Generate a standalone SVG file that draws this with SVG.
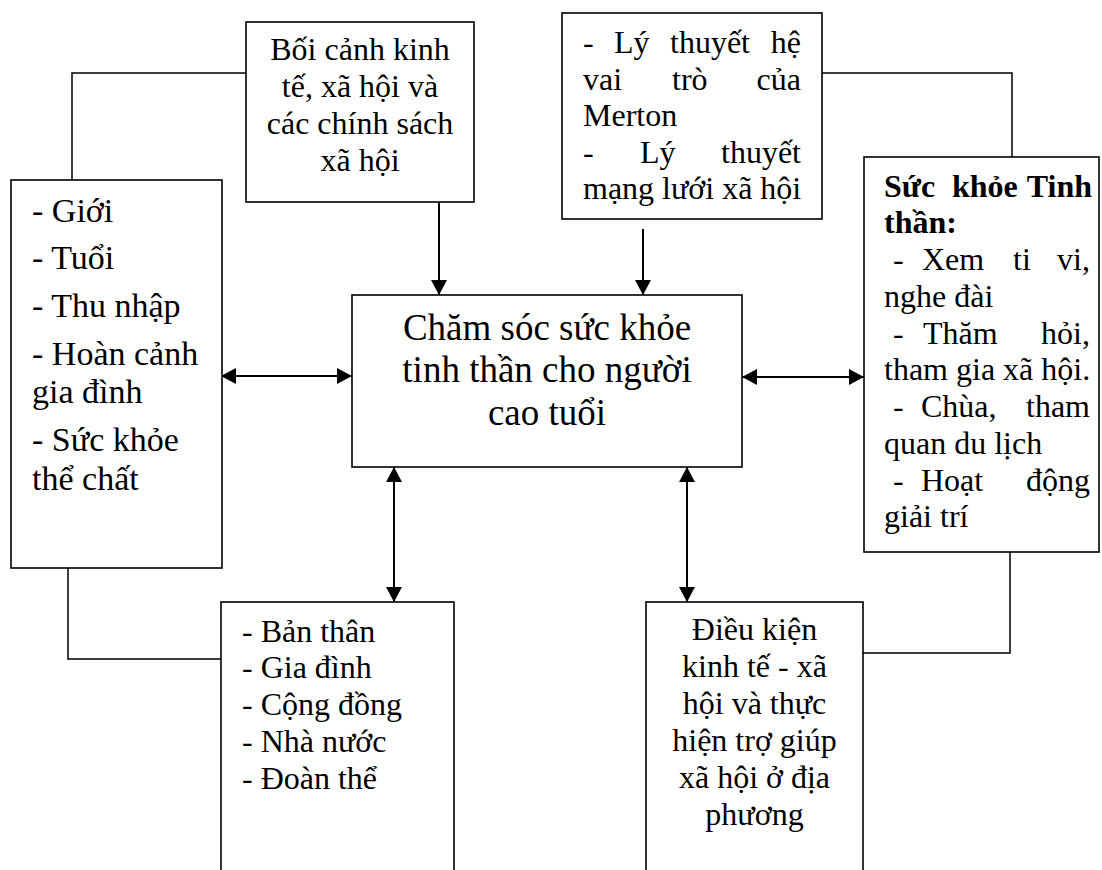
<svg xmlns="http://www.w3.org/2000/svg" width="1102" height="870" viewBox="0 0 1102 870">
<style>
  .box { fill: #ffffff; stroke: #000000; stroke-width: 1.6; }
  .conn { fill: none; stroke: #000000; stroke-width: 1.5; }
  .arrow { fill: none; stroke: #000000; stroke-width: 2; }
  text { font-family: "Liberation Serif", "Times New Roman", serif; fill: #000000; }
  .t32 { font-size: 32px; }
  .t34 { font-size: 34px; }
  .t37 { font-size: 37px; }
  .mid { text-anchor: middle; }
  .b { font-weight: bold; }
</style>
<defs>
  <marker id="arr" viewBox="0 0 15 16" markerWidth="15" markerHeight="16" refX="15" refY="8" orient="auto-start-reverse" markerUnits="userSpaceOnUse">
    <path d="M0,0 L15,8 L0,16 z" fill="#000000"/>
  </marker>
</defs>
<rect width="1102" height="870" fill="#ffffff"/>

<g id="connectors">
  <polyline class="conn" points="72,180 72,73 246,73"/>
  <polyline class="conn" points="822,73 1012,73 1012,157"/>
  <polyline class="conn" points="68,568 68,659 221,659"/>
  <polyline class="conn" points="1010,552 1010,653 863,653"/>
  <line class="arrow" x1="439" y1="202" x2="439" y2="295" marker-end="url(#arr)"/>
  <line class="arrow" x1="643" y1="229" x2="643" y2="295" marker-end="url(#arr)"/>
  <line class="arrow" x1="221" y1="376" x2="352" y2="376" marker-start="url(#arr)" marker-end="url(#arr)"/>
  <line class="arrow" x1="742" y1="377" x2="864" y2="377" marker-start="url(#arr)" marker-end="url(#arr)"/>
  <line class="arrow" x1="394" y1="467" x2="394" y2="602" marker-start="url(#arr)" marker-end="url(#arr)"/>
  <line class="arrow" x1="687" y1="467" x2="687" y2="602" marker-start="url(#arr)" marker-end="url(#arr)"/>
</g>

<g id="boi-canh">
  <rect class="box" x="246" y="22" width="228" height="180"/>
  <text class="t32 mid" x="360" y="60">Bối cảnh kinh</text>
  <text class="t32 mid" x="360" y="97">tế, xã hội và</text>
  <text class="t32 mid" x="360" y="134">các chính sách</text>
  <text class="t32 mid" x="360" y="171">xã hội</text>
</g>

<g id="ly-thuyet">
  <rect class="box" x="562" y="13" width="260" height="206"/>
  <text class="t32" y="53"><tspan x="583">-</tspan><tspan x="614">Lý</tspan><tspan x="670">thuyết</tspan><tspan x="801" text-anchor="end">hệ</tspan></text>
  <text class="t32" y="90"><tspan x="583">vai</tspan><tspan x="672">trò</tspan><tspan x="801" text-anchor="end">của</tspan></text>
  <text class="t32" x="583" y="126">Merton</text>
  <text class="t32" y="163"><tspan x="583">-</tspan><tspan x="640">Lý</tspan><tspan x="801" text-anchor="end">thuyết</tspan></text>
  <text class="t32" x="583" y="199">mạng lưới xã hội</text>
</g>

<g id="yeu-to">
  <rect class="box" x="11" y="180" width="211" height="388"/>
  <text class="t34" x="32" y="222">- Giới</text>
  <text class="t34" x="32" y="269">- Tuổi</text>
  <text class="t34" x="32" y="317">- Thu nhập</text>
  <text class="t34" x="32" y="365">- Hoàn cảnh</text>
  <text class="t34" x="32" y="403">gia đình</text>
  <text class="t34" x="32" y="451">- Sức khỏe</text>
  <text class="t34" x="32" y="490">thể chất</text>
</g>

<g id="trung-tam">
  <rect class="box" x="352" y="295" width="390" height="172"/>
  <text class="t37 mid" x="547" y="340">Chăm sóc sức khỏe</text>
  <text class="t37 mid" x="547" y="382">tinh thần cho người</text>
  <text class="t37 mid" x="547" y="425">cao tuổi</text>
</g>

<g id="suc-khoe-tinh-than">
  <rect class="box" x="864" y="157" width="235" height="395"/>
  <text class="t32 b" y="197"><tspan x="884">Sức</tspan><tspan x="952">khỏe</tspan><tspan x="1092" text-anchor="end">Tinh</tspan></text>
  <text class="t32 b" x="884" y="233">thần:</text>
  <text class="t32" y="270"><tspan x="893">-</tspan><tspan x="922">Xem</tspan><tspan x="1013">ti</tspan><tspan x="1090" text-anchor="end">vi,</tspan></text>
  <text class="t32" x="884" y="307">nghe đài</text>
  <text class="t32" y="344"><tspan x="893">-</tspan><tspan x="923">Thăm</tspan><tspan x="1090" text-anchor="end">hỏi,</tspan></text>
  <text class="t32" x="884" y="380">tham gia xã hội.</text>
  <text class="t32" y="417"><tspan x="893">-</tspan><tspan x="921">Chùa,</tspan><tspan x="1090" text-anchor="end">tham</tspan></text>
  <text class="t32" x="884" y="454">quan du lịch</text>
  <text class="t32" y="491"><tspan x="893">-</tspan><tspan x="921">Hoạt</tspan><tspan x="1090" text-anchor="end">động</tspan></text>
  <text class="t32" x="884" y="527">giải trí</text>
</g>

<g id="chu-the">
  <rect class="box" x="221" y="602" width="233" height="300"/>
  <text class="t32" x="242" y="642">- Bản thân</text>
  <text class="t32" x="242" y="678">- Gia đình</text>
  <text class="t32" x="242" y="715">- Cộng đồng</text>
  <text class="t32" x="242" y="752">- Nhà nước</text>
  <text class="t32" x="242" y="789">- Đoàn thể</text>
</g>

<g id="dieu-kien">
  <rect class="box" x="646" y="602" width="217" height="300"/>
  <text class="t32 mid" x="754.5" y="640">Điều kiện</text>
  <text class="t32 mid" x="754.5" y="677">kinh tế - xã</text>
  <text class="t32 mid" x="754.5" y="714">hội và thực</text>
  <text class="t32 mid" x="754.5" y="751">hiện trợ giúp</text>
  <text class="t32 mid" x="754.5" y="788">xã hội ở địa</text>
  <text class="t32 mid" x="754.5" y="825">phương</text>
</g>
</svg>
